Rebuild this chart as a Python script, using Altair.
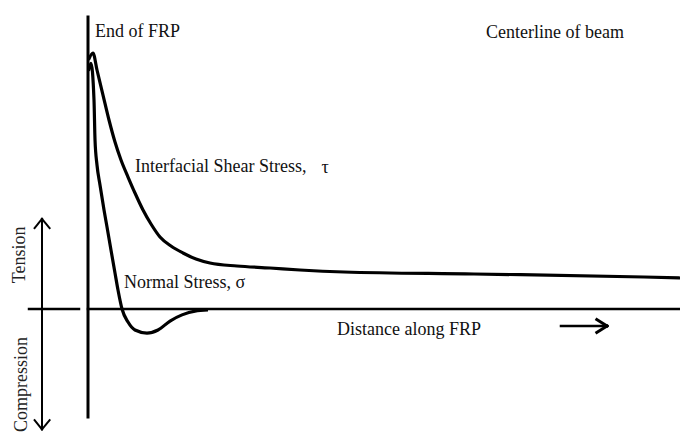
import altair as alt
import pandas as pd

# Distance along FRP (arbitrary units, 0 = end of FRP) and stresses (arbitrary units)
shear_x = [0.08, 0.83, 1.5, 2.5, 3.5, 4.5, 5.5, 6.67, 7.83, 9.17, 10.5, 12.0, 13.83, 15.83,
           18.0, 20.33, 24.83, 30.33, 35.33, 42.67, 64.33, 92.67, 98.67]
shear_y = [97.27, 100.0, 93.36, 83.59, 73.83, 65.23, 58.2, 51.56, 45.31, 38.67, 33.2, 28.13,
           24.61, 21.88, 19.53, 17.97, 16.8, 16.02, 15.23, 14.45, 13.67, 12.5, 12.11]

normal_x = [0.08, 0.5, 1.0, 1.17, 1.5, 2.0, 2.67, 3.17, 3.83, 4.5, 5.0, 5.67, 6.67, 7.83,
            9.83, 11.67, 13.67, 15.67, 17.83, 20.0]
normal_y = [93.0, 96.0, 81.64, 66.02, 56.25, 48.44, 38.67, 32.03, 23.05, 14.06, 7.42, 0.0,
            -5.1, -8.2, -9.4, -8.2, -4.7, -2.3, -0.8, -0.4]

# Annotation texts
label_text = ["End of FRP", "Centerline of beam", "Interfacial Shear Stress,", "\u03c4",
              "Normal Stress, \u03c3", "Distance along FRP"]
label_x = [1.17, 66.33, 7.83, 38.9, 6.0, 41.5]
label_y = [108.2, 107.8, 55.5, 55.0, 10.2, -8.2]

side_text = ["Tension", "Compression"]
side_x = [-11.33, -11.0]
side_y = [21.1, -29.5]

# Structural lines of the sketch (x, y -> x2, y2)
seg_x = [0.0, 0.0, -9.83, -7.67]
seg_y = [114.06, 0.0, 0.0, 35.2]
seg_x2 = [0.0, 98.67, -1.5, -7.67]
seg_y2 = [-42.19, 0.0, 0.0, -47.0]
seg_w = [3.0, 2.5, 2.5, 2.0]

# Arrow heads and the distance arrow
arr_x = [-7.67, -7.67, -7.67, -7.67, 78.83, 86.5, 86.5]
arr_y = [35.2, 35.2, -47.0, -47.0, -6.64, -6.64, -6.64]
arr_x2 = [-8.9, -6.4, -8.9, -6.4, 86.5, 84.8, 84.8]
arr_y2 = [31.6, 31.6, -43.4, -43.4, -6.64, -4.1, -9.2]
arr_w = [2.0, 2.0, 2.0, 2.0, 2.5, 3.0, 3.0]

xs = alt.Scale(domain=[-13.333, 98.667], nice=False, zero=False)
ys = alt.Scale(domain=[-48.44, 117.58], nice=False, zero=False)

shear = pd.DataFrame({"x": shear_x, "y": shear_y, "i": range(len(shear_x))})
normal = pd.DataFrame({"x": normal_x, "y": normal_y, "i": range(len(normal_x))})
labels = pd.DataFrame({"t": label_text, "x": label_x, "y": label_y})
sides = pd.DataFrame({"t": side_text, "x": side_x, "y": side_y})
segs = pd.DataFrame({"x": seg_x, "y": seg_y, "x2": seg_x2, "y2": seg_y2, "w": seg_w})
arrs = pd.DataFrame({"x": arr_x, "y": arr_y, "x2": arr_x2, "y2": arr_y2, "w": arr_w})

X = lambda f="x": alt.X(f, type="quantitative", scale=xs, axis=None)
Y = lambda f="y": alt.Y(f, type="quantitative", scale=ys, axis=None)

def curve(df):
    return alt.Chart(df).mark_line(color="black", strokeWidth=3.2, interpolate="monotone").encode(
        x=X(), y=Y(), order=alt.Order("i:Q"))

def rules(df):
    return alt.Chart(df).mark_rule(color="black", strokeCap="square").encode(
        x=X(), y=Y(), x2="x2:Q", y2="y2:Q",
        strokeWidth=alt.StrokeWidth("w:Q", scale=None))

text = alt.Chart(labels).mark_text(font="Liberation Serif", fontSize=18, align="left",
                                   baseline="middle", color="#111").encode(
    x=X(), y=Y(), text="t:N")

side = alt.Chart(sides).mark_text(font="Liberation Serif", fontSize=18, align="center",
                                  baseline="middle", angle=270, color="#222").encode(
    x=X(), y=Y(), text="t:N")

chart = alt.layer(rules(segs), rules(arrs), curve(shear), curve(normal), text, side).properties(
    width=672, height=425, padding=0, autosize=alt.AutoSizeParams(type="none")
).configure_view(stroke=None)

chart.save("out.html", embed_options={"renderer": "svg", "actions": False})
